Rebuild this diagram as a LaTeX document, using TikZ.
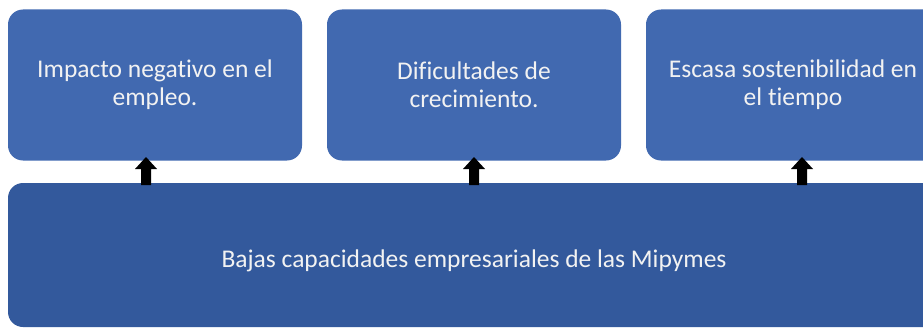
\documentclass[tikz,border=0pt]{standalone}
\usepackage{fontspec}
\setmainfont{Carlito}[Ligatures={NoCommon}]
\definecolor{topblue}{RGB}{65,105,176}
\definecolor{basblue}{RGB}{51,89,156}
\definecolor{txtwhite}{RGB}{242,242,242}
\tikzset{
  boxtext/.style={text=txtwhite, font=\fontsize{25.5}{28}\selectfont},
  topbox/.style={boxtext, fill=topblue, rounded corners=15pt, minimum width=294pt, minimum height=151pt,
    inner sep=0pt, align=center},
  basebox/.style={fill=basblue, rounded corners=15pt, minimum width=932pt, minimum height=144pt,
    inner sep=0pt},
  blockarrow/.style={fill=black}
}
\begin{document}
\begin{tikzpicture}[x=1pt,y=-1pt]
\useasboundingbox (0,0) rectangle (923,329);
\node[topbox] (t1) at (155,85) {Impacto negativo en el\\empleo.};
\node[topbox] (t2) at (474,85) {Dificultades de\\crecimiento.};
\node[topbox] (t3) at (793,85) {Escasa sostenibilidad en\\el tiempo};
\node[basebox] (b) at (474,255) {};
\node[boxtext, anchor=base, inner sep=0pt] (bt) at (474,267) {Bajas capacidades empresariales de las Mipymes};
\coordinate (a1) at (146,185);
\coordinate (a2) at (474,185);
\coordinate (a3) at (802,185);
\foreach \a in {a1,a2,a3}{
  \fill[blockarrow] (\a) ++(-5,0) -- ++(0,-16) -- ++(-6,0) -- ++(11,-12) -- ++(11,12) -- ++(-6,0) -- ++(0,16) -- cycle;
}
\end{tikzpicture}
\end{document}
